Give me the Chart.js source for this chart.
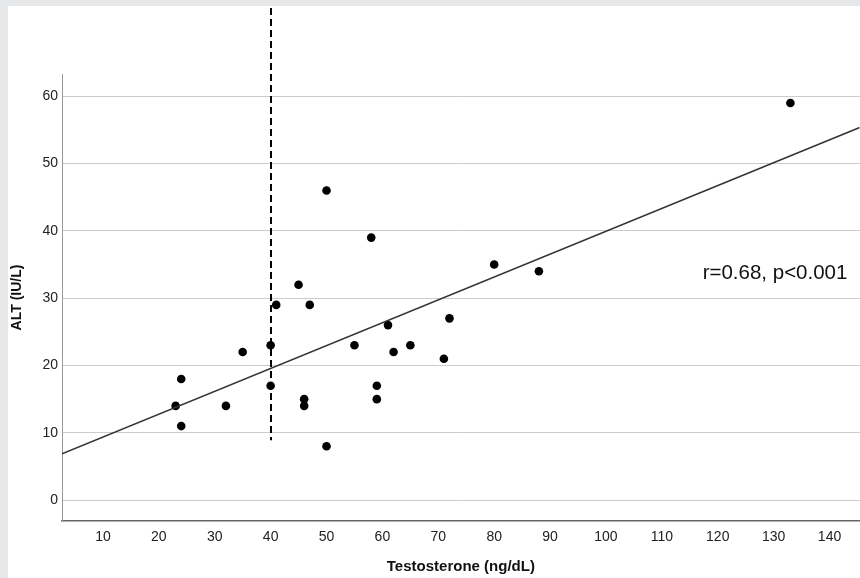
<!DOCTYPE html>
<html>
<head>
<meta charset="utf-8">
<script src="https://cdn.jsdelivr.net/npm/chart.js@4/dist/chart.umd.min.js"></script>
<style>
  html, body { margin: 0; padding: 0; background: #e6e7e9; }
  #panel { position: absolute; left: 8px; top: 6px; width: 852px; height: 572px; background: #fff; overflow: hidden; }
  canvas { display: block; }
</style>
</head>
<body>
<div id="panel"><canvas id="scatter" width="856" height="572"></canvas></div>
<script>
// values
const testosterone = [133, 50, 58, 80, 88, 45, 41, 47, 61, 72, 35, 40, 55, 62, 65, 71, 24, 40, 59, 59, 46, 46, 23, 32, 24, 50];
const alt          = [59, 46, 39, 35, 34, 32, 29, 29, 26, 27, 22, 23, 23, 22, 23, 21, 18, 17, 17, 15, 15, 14, 14, 14, 11, 8];
const xTicks = [10, 20, 30, 40, 50, 60, 70, 80, 90, 100, 110, 120, 130, 140];
const yTicks = [0, 10, 20, 30, 40, 50, 60];
const xRange = [2.67, 145.4];
const yRange = [-3.1, 63.3];
const cutoff = 40;        // dashed reference line
const cutoffLow = 8.9;    // where the dashed line stops
const statText = 'r=0.68, p<0.001';
const statPos = [117.3, 33.7];

const FONT = '"Liberation Sans", Arial, Helvetica, sans-serif';

// least squares fit line
const n = testosterone.length;
const mx = testosterone.reduce((a, b) => a + b, 0) / n;
const my = alt.reduce((a, b) => a + b, 0) / n;
let sxy = 0, sxx = 0;
for (let i = 0; i < n; i++) {
  sxy += (testosterone[i] - mx) * (alt[i] - my);
  sxx += (testosterone[i] - mx) ** 2;
}
const slope = sxy / sxx;
const intercept = my - slope * mx;
const fitLine = xRange.map(v => ({ x: v, y: intercept + slope * v }));

const points = testosterone.map((t, i) => ({ x: t, y: alt[i] }));

const extras = {
  id: 'extras',
  afterDatasetsDraw(chart) {
    const { ctx, scales: { x, y } } = chart;
    const px = Math.round(x.getPixelForValue(cutoff));
    ctx.save();
    ctx.strokeStyle = '#000';
    ctx.lineWidth = 2;
    ctx.setLineDash([7, 4]);
    ctx.beginPath();
    ctx.moveTo(px, 2);
    ctx.lineTo(px, y.getPixelForValue(cutoffLow));
    ctx.stroke();
    ctx.setLineDash([]);
    ctx.font = '20.5px ' + FONT;
    ctx.fillStyle = '#111';
    ctx.textBaseline = 'middle';
    ctx.fillText(statText, x.getPixelForValue(statPos[0]), y.getPixelForValue(statPos[1]));
    ctx.restore();
  }
};

new Chart(document.getElementById('scatter'), {
  type: 'scatter',
  data: {
    datasets: [
      {
        type: 'line',
        data: fitLine,
        borderColor: '#333',
        borderWidth: 1.5,
        pointRadius: 0,
        fill: false
      },
      {
        data: points,
        backgroundColor: '#000',
        borderColor: '#000',
        pointRadius: 4.3,
        pointBorderWidth: 0
      }
    ]
  },
  options: {
    responsive: false,
    animation: false,
    layout: { padding: { top: 68, left: 0, right: 0, bottom: 0 } },
    plugins: { legend: { display: false }, tooltip: { enabled: false } },
    scales: {
      x: {
        type: 'linear',
        min: xRange[0],
        max: xRange[1],
        afterBuildTicks: s => { s.ticks = xTicks.map(v => ({ value: v })); },
        afterFit: s => { s.height = 57; s.paddingLeft = 0; s.paddingRight = 0; },
        grid: { display: false, drawTicks: false },
        border: { color: '#666', width: 1.5 },
        ticks: { padding: 8, color: '#222', font: { family: FONT, size: 14 } },
        title: {
          display: true,
          text: 'Testosterone (ng/dL)',
          color: '#111',
          padding: { top: 0, bottom: 2 },
          font: { family: FONT, size: 15, weight: 'bold' }
        }
      },
      y: {
        type: 'linear',
        min: yRange[0],
        max: yRange[1],
        afterBuildTicks: s => { s.ticks = yTicks.map(v => ({ value: v })); },
        afterFit: s => { s.width = 54; s.paddingTop = 0; s.paddingBottom = 0; },
        grid: { color: '#cccccc', lineWidth: 1, drawTicks: false },
        border: { color: '#999', width: 1 },
        ticks: { padding: 4, color: '#222', font: { family: FONT, size: 14 } },
        title: {
          display: true,
          text: 'ALT (IU/L)',
          color: '#111',
          padding: { top: 1, bottom: 0 },
          font: { family: FONT, size: 14, weight: 'bold' }
        }
      }
    }
  },
  plugins: [extras]
});
</script>
</body>
</html>
